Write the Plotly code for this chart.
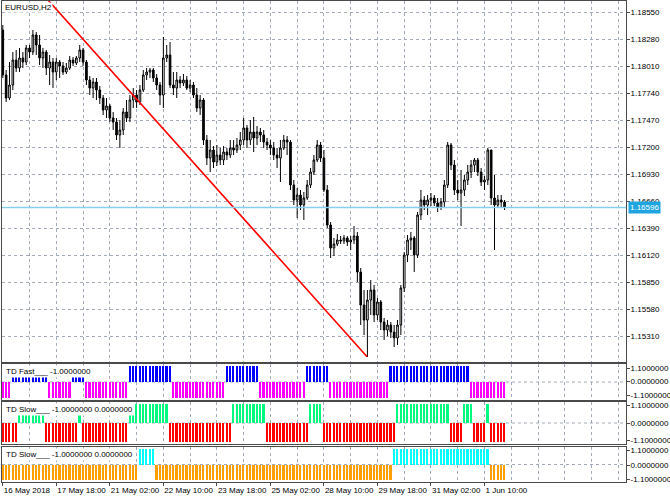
import plotly.graph_objects as go

# ---------------- data (EURUSD H2, prices in units of 0.0001) ----------------
open_pips = [11837,11792,11769,11782,11807,11799,11809,11805,11819,11815,
             11832,11822,11809,11815,11799,11805,11795,11805,11801,11795,
             11799,11807,11804,11809,11817,11805,11787,11779,11785,11777,
             11769,11757,11761,11749,11745,11732,11737,11755,11749,11767,
             11772,11765,11777,11792,11795,11797,11789,11782,11772,11809,
             11812,11782,11779,11787,11784,11787,11779,11782,11772,11759,
             11767,11727,11709,11717,11705,11712,11707,11715,11712,11719,
             11717,11722,11727,11739,11727,11735,11729,11735,11732,11725,
             11722,11719,11712,11709,11719,11727,11725,11682,11667,11672,
             11662,11669,11682,11695,11707,11722,11709,11677,11642,11619,
             11623,11627,11626,11629,11625,11627,11631,11595,11562,11547,
             11567,11577,11552,11565,11545,11537,11542,11535,11529,11542,
             11579,11612,11627,11629,11612,11652,11667,11662,11667,11669,
             11664,11660,11665,11682,11722,11702,11677,11674,11677,11687,
             11695,11702,11707,11695,11685,11687,11717,11669,11662,11667,
             11665]
high_pips = [11842,11797,11805,11815,11817,11819,11815,11822,11822,11837,
             11835,11832,11819,11817,11812,11809,11809,11807,11805,11804,
             11811,11810,11811,11822,11819,11807,11791,11789,11789,11781,
             11772,11769,11763,11755,11749,11747,11759,11767,11772,11779,
             11777,11782,11797,11799,11799,11799,11793,11785,11830,11822,
             11825,11795,11795,11791,11793,11791,11787,11785,11779,11772,
             11769,11732,11727,11721,11722,11719,11721,11719,11727,11727,
             11729,11735,11749,11742,11747,11750,11741,11739,11737,11729,
             11727,11725,11719,11727,11732,11731,11727,11687,11679,11677,
             11675,11687,11699,11712,11727,11725,11717,11682,11645,11629,
             11633,11631,11632,11631,11631,11641,11635,11599,11577,11577,
             11587,11582,11569,11567,11549,11547,11545,11542,11547,11582,
             11615,11632,11635,11631,11655,11677,11671,11672,11674,11672,
             11669,11669,11687,11725,11724,11707,11687,11697,11692,11702,
             11707,11709,11709,11699,11691,11719,11717,11692,11672,11672,
             11667]
low_pips = [11789,11765,11767,11777,11795,11795,11799,11802,11809,11812,
            11812,11802,11799,11792,11782,11779,11787,11789,11792,11793,
            11797,11801,11802,11805,11801,11782,11772,11769,11767,11763,
            11752,11749,11745,11737,11727,11719,11732,11745,11745,11759,
            11759,11762,11775,11787,11789,11785,11777,11762,11759,11805,
            11779,11772,11769,11779,11781,11777,11775,11769,11755,11752,
            11722,11702,11695,11699,11701,11702,11702,11707,11709,11712,
            11714,11717,11722,11719,11722,11715,11722,11725,11719,11717,
            11712,11707,11699,11685,11717,11712,11677,11662,11649,11657,
            11647,11667,11679,11692,11705,11705,11675,11639,11609,11611,
            11621,11623,11623,11621,11617,11623,11585,11542,11532,11510,
            11552,11545,11547,11537,11527,11531,11529,11520,11522,11532,
            11575,11605,11617,11595,11609,11647,11657,11652,11661,11661,
            11655,11657,11659,11679,11697,11672,11667,11641,11671,11682,
            11689,11695,11691,11681,11677,11682,11662,11617,11659,11660,
            11657]
close_pips = [11792,11769,11782,11807,11799,11809,11805,11819,11815,11832,
              11822,11809,11815,11799,11805,11795,11805,11801,11795,11799,
              11807,11804,11809,11817,11805,11787,11779,11785,11777,11769,
              11757,11761,11749,11745,11732,11737,11755,11749,11767,11772,
              11765,11777,11792,11795,11797,11789,11782,11772,11809,11812,
              11782,11779,11787,11784,11787,11779,11782,11772,11759,11767,
              11727,11709,11717,11705,11712,11707,11715,11712,11719,11717,
              11722,11727,11739,11727,11735,11729,11735,11732,11725,11722,
              11719,11712,11709,11719,11727,11725,11682,11667,11672,11662,
              11669,11682,11695,11707,11722,11709,11677,11642,11619,11623,
              11627,11626,11629,11625,11627,11631,11595,11562,11547,11567,
              11577,11552,11565,11545,11537,11542,11535,11529,11542,11579,
              11612,11627,11629,11612,11652,11667,11662,11667,11669,11664,
              11660,11665,11682,11722,11702,11677,11674,11677,11687,11695,
              11702,11707,11695,11685,11687,11717,11669,11662,11667,11665,
              11659.6]

time_tick_bars = [0, 16, 32, 48, 64, 80, 96, 112, 128, 144]
time_tick_labels = ["16 May 2018", "17 May 18:00", "21 May 02:00", "22 May 10:00",
                    "23 May 18:00", "25 May 02:00", "28 May 10:00", "29 May 18:00",
                    "31 May 02:00", "1 Jun 10:00"]
price_ticks = [1.15310, 1.15580, 1.15850, 1.16120, 1.16390, 1.16660, 1.16930,
               1.17200, 1.17470, 1.17740, 1.18010, 1.18280, 1.18550]
last_price = 1.16596
trend_bars = [13.5, 108.9]
trend_prices = [1.18670, 1.15103]

# indicator states as runs (state, number of bars)
fast_run_state = [-1, 1, -1, 1, -1, 1, -1, 1, -1, 1, -1, 1, -1]
fast_run_len = [3, 11, 7, 4, 13, 13, 16, 10, 14, 7, 18, 24, 11]
slow1_run_state = [-1, 1, -1, 1, -1, 1, -1, 1, -1, 1, -1, 1, -1, 1, -1, 1, -1]
slow1_run_len = [5, 8, 10, 1, 14, 12, 19, 10, 13, 4, 22, 16, 4, 3, 4, 1, 5]
slow2_run_state = [-1, 1, -1, 1, -1]
slow2_run_len = [41, 5, 71, 29, 5]
sub_tick_labels = ["1.1000000", "0.0000000", "-1.1000000"]


def expand(states, lengths):
    out = []
    for s, n in zip(states, lengths):
        out.extend([s] * n)
    return out


N = len(close_pips)
bars = list(range(N))
opens = [v / 10000 for v in open_pips]
highs = [v / 10000 for v in high_pips]
lows = [v / 10000 for v in low_pips]
closes = [v / 10000 for v in close_pips]
fast_vals = expand(fast_run_state, fast_run_len)
slow1_vals = expand(slow1_run_state, slow1_run_len)
slow2_vals = expand(slow2_run_state, slow2_run_len)

# ---------------- geometry ----------------
W, H = 670, 502
ML, MR, MT, MB = 2, 44, 1, 20
PLOT_TOP, PLOT_BOT = MT, H - MB          # 1 .. 482
PH = PLOT_BOT - PLOT_TOP
BAR0_PX, STEP_PX = 2.8, 3.345
x_range = [(ML - BAR0_PX) / STEP_PX, (W - MR - BAR0_PX) / STEP_PX]


def ydom(top_px, bot_px):
    return [(PLOT_BOT - bot_px) / PH, (PLOT_BOT - top_px) / PH]


def ypaper(px):
    return (PLOT_BOT - px) / PH


def xpaper(px):
    return (px - ML) / (W - ML - MR)


panels = {
    "main": (1, 362),
    "p1": (364, 400),
    "p2": (402, 444),
    "p3": (447, 482),
}
label_px = {"p1": [368, 381.5, 395], "p2": [405, 423, 440], "p3": [450.5, 465, 479.5]}


def sub_tickvals(name):
    top, bot = panels[name]
    return [1.1 - (p - top) / (bot - top) * 2.2 for p in label_px[name]]


FONT = "Liberation Sans"
GRID = "#A3AAB8"
AXC = "#4a4a4a"

fig = go.Figure()
fig.add_trace(go.Candlestick(
    x=bars, open=opens, high=highs, low=lows, close=closes,
    increasing=dict(line=dict(color="black", width=1), fillcolor="white"),
    decreasing=dict(line=dict(color="black", width=1), fillcolor="black"),
    whiskerwidth=0, xaxis="x", yaxis="y", showlegend=False, hoverinfo="skip"))
fig.add_trace(go.Scatter(x=trend_bars, y=trend_prices, mode="lines",
                         line=dict(color="#FF0000", width=1.6),
                         xaxis="x", yaxis="y", showlegend=False, hoverinfo="skip"))

for vals, up_c, dn_c, xa, ya in [
        (fast_vals, "#0000FF", "#FF00FF", "x2", "y2"),
        (slow1_vals, "#00FA80", "#FF0000", "x3", "y3"),
        (slow2_vals, "#00FFFF", "#FFA000", "x4", "y4")]:
    fig.add_trace(go.Bar(x=bars, y=vals, width=0.5,
                         marker=dict(color=[up_c if v > 0 else dn_c for v in vals], line_width=0),
                         xaxis=xa, yaxis=ya, showlegend=False, hoverinfo="skip"))

major_x = time_tick_bars
minor_x = [b for b in range(8, int(x_range[1]) + 1, 8) if b not in major_x]

xbase = dict(range=x_range, showline=True, mirror=True, linecolor=AXC, linewidth=1,
             showgrid=True, gridcolor=GRID, griddash="3px,3px", gridwidth=1,
             tickmode="array", tickvals=major_x, ticktext=time_tick_labels,
             zeroline=False, automargin=False, tickangle=0,
             minor=dict(tickmode="array", tickvals=minor_x, showgrid=True,
                        gridcolor=GRID, griddash="3px,3px", gridwidth=1, ticks=""))

layout = dict(
    width=W, height=H, margin=dict(l=ML, r=MR, t=MT, b=MB, autoexpand=False),
    paper_bgcolor="white", plot_bgcolor="white",
    font=dict(family=FONT, size=8, color="black"),
    showlegend=False, bargap=0,
)
layout["xaxis"] = dict(xbase, anchor="y", showticklabels=False, ticks="",
                       rangeslider=dict(visible=False))
layout["xaxis2"] = dict(xbase, anchor="y2", matches="x", showticklabels=False, ticks="")
layout["xaxis3"] = dict(xbase, anchor="y3", matches="x", showticklabels=False, ticks="")
layout["xaxis4"] = dict(xbase, anchor="y4", matches="x", showticklabels=True,
                        ticks="outside", ticklen=3, tickcolor=AXC,
                        ticklabelposition="outside right")

ybase = dict(side="right", tickmode="array", ticks="outside", ticklen=3, tickcolor=AXC,
             showline=True, mirror=True, linecolor=AXC, zeroline=False,
             automargin=False, ticklabelstandoff=-1)
top, bot = panels["main"]
layout["yaxis"] = dict(ybase, domain=ydom(top, bot), anchor="x",
                       range=[1.18670 - bot / 10000, 1.18670 - top / 10000],
                       tickvals=price_ticks,
                       ticktext=[f"{v:.5f}" for v in price_ticks],
                       showgrid=True, gridcolor=GRID, griddash="3px,3px")
shapes = []
for i, name in enumerate(["p1", "p2", "p3"]):
    top, bot = panels[name]
    yname = f"yaxis{i + 2}"
    layout[yname] = dict(ybase, domain=ydom(top, bot), anchor=f"x{i + 2}",
                         range=[-1.1, 1.1],
                         tickvals=sub_tickvals(name), ticktext=sub_tick_labels,
                         showgrid=False)
    shapes.append(dict(type="line", xref="paper", x0=0, x1=1, yref=f"y{i + 2}",
                       y0=0, y1=0, line=dict(color=GRID, width=1, dash="3px,3px"),
                       layer="below"))

shapes.append(dict(type="line", xref="paper", x0=0, x1=1, yref="y",
                   y0=last_price, y1=last_price,
                   line=dict(color="#86CFF0", width=1.5)))
layout["shapes"] = shapes

ann = []
ann.append(dict(text="EURUSD,H2", xref="paper", yref="paper", x=xpaper(4), y=ypaper(7.5),
                xanchor="left", yanchor="middle", showarrow=False, bgcolor="white",
                borderpad=0, font=dict(size=8)))
for txt, ypx in [("TD Fast___ -1.0000000", 371.5),
                 ("TD Slow___ -1.0000000 0.0000000", 409),
                 ("TD Slow___ -1.0000000 0.0000000", 454)]:
    ann.append(dict(text=txt, xref="paper", yref="paper", x=xpaper(4), y=ypaper(ypx),
                    xanchor="left", yanchor="middle", showarrow=False,
                    bgcolor="white", borderpad=1, font=dict(size=8)))
ann.append(dict(text=f"{last_price:.5f}", xref="paper", yref="y", x=1, xshift=2,
                y=last_price, xanchor="left", yanchor="middle", showarrow=False,
                bgcolor="#1EA5E0", borderpad=1, font=dict(size=8, color="white")))
layout["annotations"] = ann

fig.update_layout(layout)
fig.write_html("out.html", config={"displayModeBar": False},
               post_script="document.body.style.margin='0px';document.body.style.padding='0px';")
